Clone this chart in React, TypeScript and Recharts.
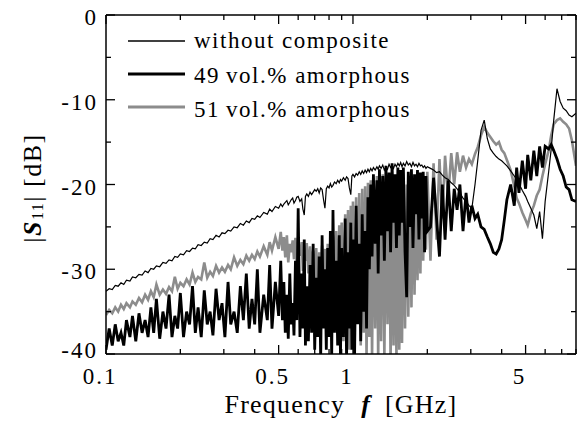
import React from 'react';
import { LineChart, Line, XAxis, YAxis, Legend, Label } from 'recharts';

// frequency grid [GHz] (denser where the traces are noisiest)
const freqGHz = [
  0.100, 0.103, 0.106, 0.109, 0.112, 0.115, 0.118, 0.121, 0.125, 0.128,
  0.132, 0.136, 0.140, 0.144, 0.148, 0.152, 0.156, 0.160, 0.165, 0.170,
  0.175, 0.180, 0.185, 0.190, 0.195, 0.200, 0.206, 0.212, 0.218, 0.224,
  0.230, 0.236, 0.243, 0.250, 0.257, 0.264, 0.271, 0.279, 0.287, 0.295,
  0.303, 0.312, 0.320, 0.330, 0.340, 0.350, 0.360, 0.370, 0.380, 0.390,
  0.400, 0.410, 0.420, 0.435, 0.450, 0.460, 0.470, 0.485, 0.500, 0.510,
  0.518, 0.525, 0.532, 0.540, 0.547, 0.555, 0.562, 0.570, 0.577, 0.585,
  0.592, 0.600, 0.610, 0.620, 0.627, 0.635, 0.642, 0.650, 0.660, 0.670,
  0.680, 0.690, 0.700, 0.710, 0.720, 0.730, 0.740, 0.750, 0.760, 0.770,
  0.780, 0.790, 0.800, 0.810, 0.820, 0.830, 0.842, 0.855, 0.867, 0.880,
  0.890, 0.900, 0.915, 0.930, 0.942, 0.955, 0.967, 0.980, 0.990, 1.000,
  1.015, 1.030, 1.045, 1.060, 1.075, 1.090, 1.105, 1.120, 1.135, 1.150,
  1.165, 1.180, 1.195, 1.210, 1.230, 1.250, 1.265, 1.280, 1.300, 1.320,
  1.340, 1.360, 1.380, 1.400, 1.420, 1.440, 1.460, 1.480, 1.500, 1.520,
  1.540, 1.560, 1.580, 1.600, 1.625, 1.650, 1.675, 1.700, 1.725, 1.750,
  1.775, 1.800, 1.825, 1.850, 1.875, 1.900, 1.925, 1.950, 1.975, 2.000,
  2.06, 2.12, 2.18, 2.24, 2.30, 2.36, 2.43, 2.50, 2.57, 2.64,
  2.71, 2.79, 2.87, 2.95, 3.03, 3.12, 3.20, 3.30, 3.40, 3.50,
  3.60, 3.70, 3.80, 3.90, 4.00, 4.10, 4.20, 4.35, 4.50, 4.60,
  4.70, 4.85, 5.00, 5.10, 5.25, 5.40, 5.55, 5.70, 5.85, 6.00,
  6.20, 6.35, 6.50, 6.70, 6.90, 7.10, 7.30, 7.50, 7.70, 8.00,
];

// |S11| [dB]
const withoutComposite = [
  -32.6, -32.3, -32.4, -31.9, -32.0, -31.6, -31.8, -31.3, -31.4, -30.9,
  -31.0, -30.6, -30.7, -30.2, -30.4, -29.9, -30.0, -29.6, -29.7, -29.2,
  -29.3, -28.9, -29.0, -28.5, -28.6, -28.2, -28.3, -27.8, -27.9, -27.5,
  -27.6, -27.1, -27.2, -26.8, -26.9, -26.4, -26.5, -26.0, -26.2, -25.7,
  -25.8, -25.4, -25.5, -25.0, -25.1, -24.6, -24.8, -24.3, -24.5, -24.0,
  -24.1, -23.7, -23.9, -23.3, -23.5, -22.9, -23.2, -22.6, -22.8, -22.3,
  -22.6, -22.3, -22.1, -21.9, -22.4, -22.1, -21.8, -21.6, -22.2, -21.9,
  -21.5, -21.4, -22.0, -21.7, -22.9, -23.6, -21.4, -21.1, -21.4, -20.9,
  -21.2, -20.9, -20.6, -20.8, -20.5, -21.0, -20.4, -20.6, -21.8, -22.8,
  -20.5, -20.2, -20.4, -19.9, -20.3, -20.1, -19.7, -19.9, -19.5, -19.8,
  -19.4, -19.6, -19.2, -19.5, -19.1, -19.3, -20.4, -21.2, -19.0, -18.8,
  -19.1, -18.7, -18.9, -18.5, -18.8, -18.4, -18.7, -18.3, -18.6, -18.2,
  -18.5, -18.1, -18.4, -18.0, -18.3, -17.9, -18.2, -17.8, -18.1, -17.7,
  -18.3, -17.9, -18.2, -17.6, -18.0, -17.7, -18.1, -17.6, -17.9, -17.5,
  -17.8, -17.4, -17.9, -17.5, -17.8, -17.3, -17.7, -17.5, -17.9, -17.4,
  -17.8, -17.6, -17.9, -17.5, -17.8, -17.7, -18.0, -17.8, -18.1, -17.9,
  -18.1, -18.3, -18.6, -18.5, -18.9, -19.2, -19.4, -19.8, -20.1, -20.5,
  -21.0, -21.6, -22.0, -22.5, -22.8, -20.0, -17.2, -13.6, -12.4, -14.6,
  -15.8, -16.3, -16.7, -17.0, -17.2, -17.5, -17.8, -18.4, -19.0, -19.4,
  -19.9, -20.7, -21.4, -22.0, -22.8, -23.6, -25.2, -23.2, -26.4, -22.0,
  -18.5, -15.8, -12.4, -8.7, -10.2, -11.0, -11.3, -11.8, -12.0, -11.6,
];

const amorphous49 = [
  -39.5, -37.0, -39.0, -36.5, -38.5, -37.5, -39.0, -36.0, -38.0, -35.5,
  -38.5, -35.2, -37.5, -36.0, -38.0, -34.5, -37.5, -33.5, -38.2, -35.0,
  -37.0, -33.0, -38.0, -35.5, -37.0, -32.8, -38.0, -35.0, -36.5, -32.0,
  -37.5, -34.5, -38.0, -32.5, -36.5, -35.0, -37.8, -32.3, -36.0, -34.0,
  -38.0, -31.5, -36.5, -35.0, -37.5, -32.0, -36.0, -30.5, -37.0, -33.5,
  -36.5, -30.0, -37.5, -33.0, -36.0, -29.5, -37.0, -31.5, -35.5, -29.0,
  -36.0, -31.5, -37.5, -33.0, -38.2, -30.5, -36.5, -34.0, -37.8, -29.0,
  -36.0, -22.8, -38.0, -30.5, -37.0, -26.5, -39.0, -32.0, -38.5, -29.5,
  -37.5, -27.0, -39.5, -31.0, -38.0, -28.5, -40.5, -26.0, -37.0, -30.0,
  -39.5, -27.5, -38.0, -25.5, -40.5, -23.0, -37.5, -29.0, -39.0, -26.0,
  -40.5, -27.5, -38.0, -24.0, -40.5, -28.0, -37.0, -24.5, -39.5, -26.5,
  -40.5, -22.5, -36.5, -27.0, -38.5, -23.5, -35.0, -25.5, -37.0, -21.5,
  -30.0, -20.0, -28.5, -18.8, -27.0, -19.5, -30.5, -18.2, -26.0, -19.0,
  -29.0, -17.8, -25.5, -18.6, -28.0, -17.5, -24.5, -18.8, -27.5, -18.0,
  -26.0, -18.3, -24.5, -18.0, -28.0, -33.3, -18.5, -25.0, -18.2, -27.5,
  -18.8, -23.5, -18.3, -26.5, -18.6, -24.0, -18.5, -28.0, -19.0, -25.5,
  -25.0, -19.2, -24.0, -28.5, -20.0, -26.5, -19.5, -25.5, -20.5, -23.0,
  -20.0, -25.5, -21.0, -24.5, -22.5, -24.0, -23.5, -25.0, -25.3, -26.2,
  -27.0, -28.0, -28.2, -27.6, -26.5, -24.2, -21.8, -20.0, -22.5, -18.0,
  -21.0, -17.2, -20.5, -16.5, -19.5, -16.0, -19.0, -15.5, -18.0, -15.5,
  -15.8, -15.3, -16.0, -17.0, -18.2, -19.0, -20.3, -20.6, -21.8, -22.0,
];

const amorphous51 = [
  -35.4, -34.8, -35.2, -34.5, -35.0, -34.2, -34.7, -34.0, -34.5, -33.8,
  -34.2, -33.4, -33.9, -33.0, -33.6, -32.6, -33.3, -31.8, -33.0, -32.4,
  -32.9, -32.1, -32.6, -30.9, -32.3, -31.6, -32.0, -31.2, -31.8, -30.4,
  -31.5, -30.9, -31.2, -29.2, -31.0, -30.3, -30.8, -29.6, -30.4, -29.8,
  -30.3, -29.5, -30.0, -28.6, -29.6, -28.9, -29.4, -28.4, -29.0, -28.3,
  -28.8, -27.9, -28.5, -27.3, -28.3, -26.8, -27.8, -26.2, -27.6, -25.6,
  -27.8, -26.2, -28.6, -26.0, -29.2, -27.0, -28.0, -26.6, -28.8, -26.3,
  -29.5, -27.2, -28.4, -26.8, -30.2, -27.5, -29.0, -26.9, -30.5, -27.3,
  -30.0, -27.8, -31.5, -27.5, -33.5, -28.0, -30.5, -27.2, -31.8, -27.6,
  -35.6, -27.0, -30.5, -26.8, -33.0, -26.0, -31.5, -25.5, -34.0, -24.8,
  -36.0, -24.5, -38.5, -23.5, -34.5, -23.0, -39.5, -22.5, -37.0, -22.0,
  -40.5, -21.5, -35.5, -21.0, -39.0, -20.5, -37.5, -20.2, -40.5, -19.8,
  -38.0, -19.5, -40.5, -20.5, -37.0, -19.0, -41.0, -21.0, -38.5, -18.8,
  -40.5, -20.0, -36.5, -19.2, -41.0, -21.5, -39.0, -19.0, -40.5, -20.2,
  -39.5, -20.5, -38.7, -19.5, -37.0, -20.0, -35.6, -19.2, -34.5, -19.8,
  -33.0, -19.0, -31.3, -19.6, -30.5, -18.8, -29.0, -19.2, -27.7, -18.5,
  -29.0, -17.5, -26.5, -17.0, -24.0, -16.6, -21.5, -16.3, -20.0, -16.2,
  -18.5, -16.6, -18.0, -17.0, -17.6, -16.4, -15.6, -14.2, -13.2, -13.9,
  -14.4, -14.9, -15.3, -15.0, -15.9, -16.3, -17.1, -18.3, -20.2, -21.6,
  -22.2, -23.3, -24.2, -24.8, -23.4, -22.5, -21.3, -20.6, -19.0, -17.6,
  -16.0, -14.2, -12.9, -12.4, -12.2, -12.6, -12.9, -13.4, -14.8, -17.8,
];

const seriesNames = ['without composite', '49\u2009vol.% amorphous', '51\u2009vol.% amorphous'];

const xLabelTicks = [0.1, 0.5, 1, 5];
const xMinorTicks = [0.2, 0.3, 0.4, 0.6, 0.7, 0.8, 0.9, 2, 3, 4, 6, 7, 8];
const yLabelTicks = [-40, -30, -20, -10, 0];
const yMinorTicks = [-35, -25, -15, -5];

const xTicks = [...xLabelTicks, ...xMinorTicks].sort((a, b) => a - b);
const yTicks = [...yLabelTicks, ...yMinorTicks].sort((a, b) => a - b);

const data = freqGHz.map((f, i) => ({
  f,
  s0: withoutComposite[i],
  s49: amorphous49[i],
  s51: amorphous51[i],
}));

const FONT = '"Liberation Serif", "Times New Roman", serif';
const GRAY = '#8c8c8c';

const isMajorX = (v: number) => xLabelTicks.includes(v);
const isMajorY = (v: number) => yLabelTicks.includes(v);

const BottomTick = ({ x, y, payload }: any) => (
  <g>
    <line x1={x} x2={x} y1={y} y2={y - (isMajorX(payload.value) ? 9 : 5)} stroke="#000" strokeWidth={1.3} />
    {isMajorX(payload.value) && (
      <text x={x - 6} y={y + 30} textAnchor="middle" fontFamily={FONT} fontSize={23} letterSpacing={2} fill="#000">
        {String(payload.value)}
      </text>
    )}
  </g>
);

const TopTick = ({ x, y, payload }: any) => (
  <line x1={x} x2={x} y1={y} y2={y + (isMajorX(payload.value) ? 9 : 5)} stroke="#000" strokeWidth={1.3} />
);

const LeftTick = ({ x, y, payload }: any) => (
  <g>
    <line x1={x} x2={x + (isMajorY(payload.value) ? 9 : 5)} y1={y} y2={y} stroke="#000" strokeWidth={1.3} />
    {isMajorY(payload.value) && (
      <text
        x={x - 8}
        y={y + (payload.value === -40 ? 4 : 10)}
        textAnchor="end"
        fontFamily={FONT}
        fontSize={23}
        letterSpacing={2}
        fill="#000"
      >
        {String(payload.value)}
      </text>
    )}
  </g>
);

const RightTick = ({ x, y, payload }: any) => (
  <line x1={x} x2={x - (isMajorY(payload.value) ? 9 : 5)} y1={y} y2={y} stroke="#000" strokeWidth={1.3} />
);

const XTitle = () => (
  <text x={341} y={413} textAnchor="middle" fontFamily={FONT} fontSize={26} letterSpacing={1.2} fill="#000">
    Frequency
    <tspan dx={16} fontStyle="italic" fontWeight="bold">f</tspan>
    <tspan dx={14}>[GHz]</tspan>
  </text>
);

const YTitle = () => (
  <text
    x={32}
    y={188}
    transform="rotate(-90, 32, 188)"
    textAnchor="middle"
    dominantBaseline="central"
    fontFamily={FONT}
    fontSize={26}
    letterSpacing={1.5}
    fill="#000"
  >
    |<tspan fontStyle="italic" fontWeight="bold">S</tspan>
    <tspan fontSize={16} dy={5}>11</tspan>
    <tspan dy={-5}>| [dB]</tspan>
  </text>
);

const legendLines = [
  { stroke: '#000', width: 1.4 },
  { stroke: '#000', width: 3.2 },
  { stroke: GRAY, width: 3.2 },
];

const LegendBox = () => (
  <svg width={420} height={130} style={{ display: 'block' }}>
    {seriesNames.map((name, i) => (
      <g key={name}>
        <line
          x1={128}
          x2={185}
          y1={41 + i * 33}
          y2={41 + i * 33}
          stroke={legendLines[i].stroke}
          strokeWidth={legendLines[i].width}
        />
        <text x={194} y={48 + i * 34.5} fontFamily={FONT} fontSize={23} letterSpacing={1.5} fill="#000">
          {name}
        </text>
      </g>
    ))}
  </svg>
);

export default function App() {
  return (
    <div style={{ position: 'absolute', left: 0, top: 0, background: '#fff' }}>
      <LineChart width={585} height={424} data={data} margin={{ top: 0, right: 0, bottom: 0, left: 0 }}>
        <XAxis
          xAxisId="bottom"
          dataKey="f"
          type="number"
          scale="log"
          domain={[0.1, 8]}
          allowDataOverflow
          ticks={xTicks}
          interval={0}
          tick={<BottomTick />}
          tickSize={0}
          tickMargin={0}
          tickLine={false}
          axisLine={{ stroke: '#000', strokeWidth: 1.5 }}
          height={70}
        >
          <Label content={() => <XTitle />} />
        </XAxis>
        <XAxis
          xAxisId="top"
          orientation="top"
          dataKey="f"
          type="number"
          scale="log"
          domain={[0.1, 8]}
          allowDataOverflow
          ticks={xTicks}
          interval={0}
          tick={<TopTick />}
          tickSize={0}
          tickMargin={0}
          tickLine={false}
          axisLine={{ stroke: '#000', strokeWidth: 1.5 }}
          height={15}
        />
        <YAxis
          yAxisId="left"
          type="number"
          domain={[-40, 0]}
          allowDataOverflow
          ticks={yTicks}
          interval={0}
          tick={<LeftTick />}
          tickSize={0}
          tickMargin={0}
          tickLine={false}
          axisLine={{ stroke: '#000', strokeWidth: 1.5 }}
          width={106}
        >
          <Label content={() => <YTitle />} />
        </YAxis>
        <YAxis
          yAxisId="right"
          orientation="right"
          type="number"
          domain={[-40, 0]}
          allowDataOverflow
          ticks={yTicks}
          interval={0}
          tick={<RightTick />}
          tickSize={0}
          tickMargin={0}
          tickLine={false}
          axisLine={{ stroke: '#000', strokeWidth: 1.5 }}
          width={9}
        />
        <Legend
          layout="horizontal"
          verticalAlign="middle"
          content={() => <LegendBox />}
          wrapperStyle={{ position: 'absolute', left: 0, top: 0, width: 420, height: 130 }}
        />
        <Line
          xAxisId="bottom"
          yAxisId="left"
          dataKey="s51"
          name={seriesNames[2]}
          type="linear"
          stroke={GRAY}
          strokeWidth={2.6}
          dot={false}
          isAnimationActive={false}
        />
        <Line
          xAxisId="bottom"
          yAxisId="left"
          dataKey="s49"
          name={seriesNames[1]}
          type="linear"
          stroke="#000"
          strokeWidth={2.8}
          dot={false}
          isAnimationActive={false}
        />
        <Line
          xAxisId="bottom"
          yAxisId="left"
          dataKey="s0"
          name={seriesNames[0]}
          type="linear"
          stroke="#000"
          strokeWidth={1.2}
          dot={false}
          isAnimationActive={false}
        />
      </LineChart>
    </div>
  );
}
